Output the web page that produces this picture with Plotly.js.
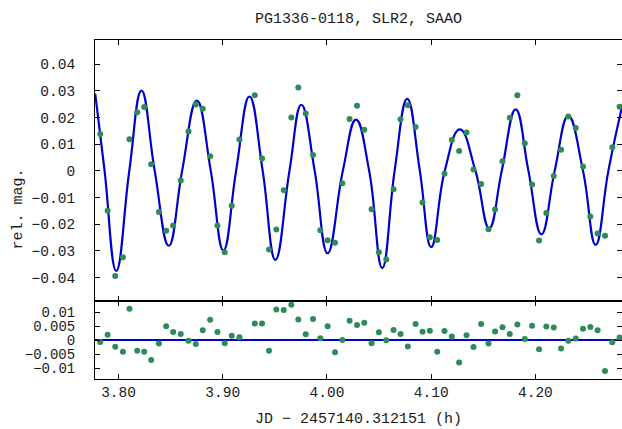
<!DOCTYPE html>
<html>
<head>
<meta charset="utf-8">
<script src="https://cdn.plot.ly/plotly-3.0.1.min.js"></script>
<style>html,body{margin:0;padding:0;background:#fff;}#chart{width:622px;height:429px;}</style>
</head>
<body>
<div id="chart"></div>
<script>
// Observation times (JD - 2457140.312151, in hours)
var timeH = [3.7824, 3.7895, 3.7968, 3.8042, 3.8105, 3.8179, 3.8246, 3.8313, 3.8387, 3.8457,
  3.8524, 3.8597, 3.8671, 3.8741, 3.8808, 3.8879, 3.8949, 3.9019, 3.9086, 3.9160,
  3.9307, 3.9377, 3.9444, 3.9514, 3.9585, 3.9658, 3.9725, 3.9796, 3.9866, 3.9936,
  4.0006, 4.0077, 4.0147, 4.0217, 4.0288, 4.0358, 4.0428, 4.0498, 4.0569, 4.0639,
  4.0706, 4.0776, 4.0850, 4.0917, 4.0987, 4.1058, 4.1128, 4.1198, 4.1268, 4.1339,
  4.1406, 4.1479, 4.1550, 4.1613, 4.1684, 4.1754, 4.1827, 4.1898, 4.1968, 4.2035,
  4.2105, 4.2176, 4.2246, 4.2316, 4.2387, 4.2457, 4.2527, 4.2597, 4.2668, 4.2738,
  4.2808];
// Relative magnitude
var relMag = [0.0138, -0.0150, -0.0394, -0.0324, 0.0119, 0.0220, 0.0240, 0.0025, -0.0154, -0.0225,
  -0.0205, -0.0036, 0.0148, 0.0249, 0.0233, 0.0055, -0.0205, -0.0305, -0.0131, 0.0118,
  0.0284, 0.0046, -0.0295, -0.0220, -0.0073, 0.0200, 0.0313, 0.0215, 0.0060, -0.0223,
  -0.0260, -0.0270, -0.0046, 0.0195, 0.0244, 0.0154, -0.0144, -0.0305, -0.0333, -0.0069,
  0.0194, 0.0246, 0.0165, -0.0119, -0.0249, -0.0259, -0.0011, 0.0116, 0.0075, 0.0144,
  0.0005, -0.0049, -0.0219, -0.0145, 0.0036, 0.0199, 0.0284, 0.0104, -0.0051, -0.0261,
  -0.0158, -0.0019, 0.0079, 0.0204, 0.0161, 0.0016, -0.0171, -0.0235, -0.0243, 0.0089,
  0.0241];
// Residuals (data - fit)
var residual = [-0.0006, 0.0020, -0.0023, -0.0041, 0.0114, -0.0037, -0.0041, -0.0071, -0.0011, 0.0051,
  0.0030, 0.0023, -0.0001, -0.0013, 0.0036, 0.0074, 0.0030, -0.0010, 0.0017, 0.0011,
  0.0061, 0.0061, -0.0037, 0.0111, 0.0109, 0.0128, 0.0075, 0.0022, 0.0077, 0.0008,
  0.0051, -0.0043, 0.0001, 0.0071, 0.0055, 0.0063, -0.0010, 0.0029, 0.0000, 0.0037,
  0.0023, -0.0022, 0.0059, 0.0031, 0.0035, -0.0041, 0.0034, 0.0014, -0.0080, 0.0018,
  -0.0024, 0.0059, -0.0011, 0.0032, 0.0047, 0.0023, 0.0057, 0.0005, 0.0053, -0.0032,
  0.0050, 0.0046, -0.0029, -0.0001, 0.0007, 0.0042, 0.0048, 0.0036, -0.0110, -0.0007,
  0.0010];
// Fit curve, read at its extrema and zero crossings
var fitX = [3.7776, 3.7866, 3.7978, 3.8103, 3.8220, 3.8347, 3.8482, 3.8610, 3.8751, 3.8885,
  3.9006, 3.9128, 3.9256, 3.9383, 3.9505, 3.9640, 3.9754, 3.9882, 4.0006, 4.0152,
  4.0279, 4.0405, 4.0530, 4.0649, 4.0770, 4.0891, 4.1000, 4.1130, 4.1275, 4.1425,
  4.1557, 4.1677, 4.1811, 4.1933, 4.2058, 4.2185, 4.2316, 4.2457, 4.2578, 4.2700,
  4.2831];
var fitY = [0.0290, 0, -0.0375, 0, 0.0301, 0, -0.0281, 0, 0.0264, 0,
  -0.0299, 0, 0.0279, 0, -0.0334, 0, 0.0248, 0, -0.0309, 0,
  0.0192, 0, -0.0365, 0, 0.0270, 0, -0.0286, 0, 0.0156, 0,
  -0.0215, 0, 0.0231, 0, -0.0238, 0, 0.0206, 0, -0.0278, 0,
  0.0240];
var xTicks = [3.8, 3.9, 4.0, 4.1, 4.2];
var yTicksTop = [-0.04, -0.03, -0.02, -0.01, 0, 0.01, 0.02, 0.03, 0.04];
var yTicksBottom = [-0.01, -0.005, 0, 0.005, 0.01];

var FAMILY = 'Liberation Mono, DejaVu Sans Mono, monospace';
var FONT = {family: FAMILY, size: 15, color: '#1a1a1a'};
var TICKFONT = {family: FAMILY, size: 14.5, color: '#1a1a1a'};
var SMALLTICKFONT = {family: FAMILY, size: 14, color: '#1a1a1a'};
var green = '#2E8B57';
var blue = '#0000CD';

var traces = [
  {x: fitX, y: fitY, xaxis: 'x', yaxis: 'y', mode: 'lines', line: {color: blue, width: 2.2, shape: 'spline', smoothing: 1.3}, hoverinfo: 'skip'},
  {x: timeH, y: relMag, xaxis: 'x', yaxis: 'y', mode: 'markers', marker: {color: green, size: 6}},
  {x: timeH, y: residual, xaxis: 'x2', yaxis: 'y2', mode: 'markers', marker: {color: green, size: 6}}
];

var xr = [3.7774, 4.2831];
var axCommon = {showline: true, linecolor: '#000', linewidth: 1, ticks: 'inside', ticklen: 5, tickcolor: '#000', mirror: 'ticks', showgrid: false, tickfont: TICKFONT};
function ax(extra){ var o = {}; for (var k in axCommon) o[k] = axCommon[k]; for (var j in extra) o[j] = extra[j]; return o; }

var layout = {
  width: 622, height: 429,
  margin: {l: 95, r: 0, t: 40, b: 50},
  paper_bgcolor: '#fff', plot_bgcolor: '#fff',
  showlegend: false,
  font: FONT,
  title: {text: 'PG1336-0118, SLR2, SAAO', font: FONT, xref: 'paper', x: 0.5, xanchor: 'center', yref: 'container', y: 0.959, yanchor: 'middle'},
  xaxis: ax({domain: [0, 1], range: xr, anchor: 'y', tickvals: xTicks, showticklabels: false, zeroline: false}),
  yaxis: ax({domain: [0.2287, 1], range: [-0.049, 0.0491], anchor: 'x', tickvals: yTicksTop, zeroline: false, ticklabelstandoff: 16}),
  xaxis2: ax({domain: [0, 1], range: xr, anchor: 'y2', tickvals: xTicks, tickformat: '.2f', zeroline: false,
    title: {text: 'JD \u2212 2457140.312151 (h)', font: FONT, standoff: 12}}),
  yaxis2: ax({domain: [0, 0.2287], range: [-0.0139, 0.0140], anchor: 'x2', tickvals: yTicksBottom, tickfont: SMALLTICKFONT,
    zeroline: true, zerolinecolor: blue, zerolinewidth: 2.2, ticklabelstandoff: 16}),
  annotations: [{text: 'rel. mag.', xref: 'paper', yref: 'paper', x: -0.146, y: 0.5, textangle: -90, showarrow: false, font: FONT, xanchor: 'center', yanchor: 'middle'}]
};

Plotly.newPlot('chart', traces, layout, {displayModeBar: false, staticPlot: true});
</script>
</body>
</html>
